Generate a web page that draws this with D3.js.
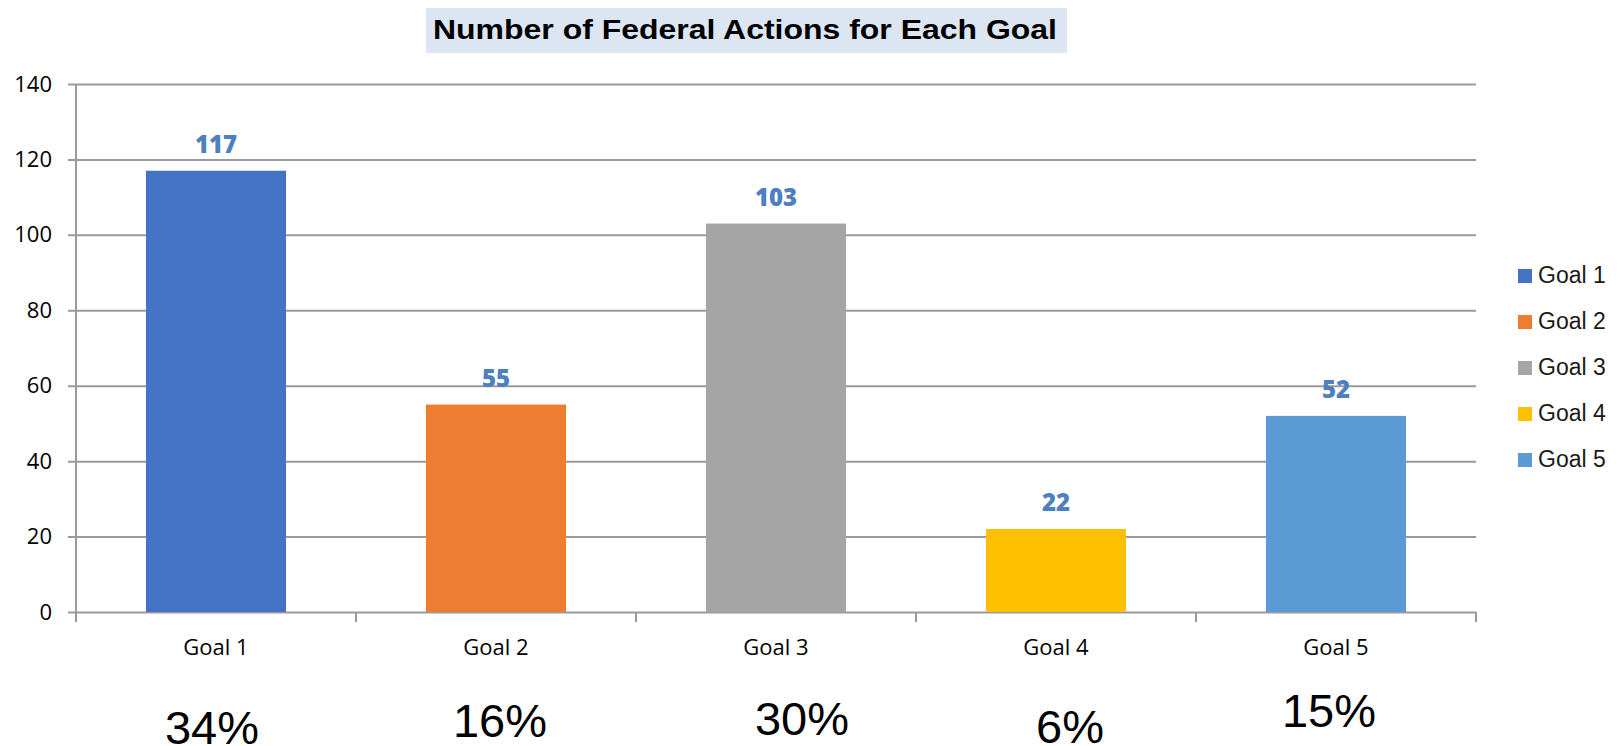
<!DOCTYPE html>
<html>
<head>
<meta charset="utf-8">
<script src="https://cdn.jsdelivr.net/npm/d3@7/dist/d3.min.js"></script>
<style>
  body { margin: 0; background: #fff; }
  svg { display: block; }
</style>
</head>
<body>
<svg id="chart" width="1621" height="746"></svg>
<script>
// data
var goals = ["Goal 1", "Goal 2", "Goal 3", "Goal 4", "Goal 5"];
var actions = [117, 55, 103, 22, 52];
var shares = ["34%", "16%", "30%", "6%", "15%"];
var colors = ["#4472C4", "#ED7D31", "#A5A5A5", "#FFC000", "#5B9BD5"];
var yTicks = [0, 20, 40, 60, 80, 100, 120, 140];

// percent labels sit a little off-centre in the original
var pctDx = [-4, 4, 26, 14, -7];
var pctY = [744, 737, 735, 743, 727];

var svg = d3.select("#chart");

var plotLeft = 76, plotRight = 1476, plotTop = 84, plotBottom = 612;

var x = d3.scaleBand().domain(goals).range([plotLeft, plotRight])
    .paddingInner(0.5).paddingOuter(0.25);
var y = d3.scaleLinear().domain([0, 140]).range([plotBottom, plotTop]);

// title with its pale box
svg.append("rect")
    .attr("x", 426).attr("y", 8)
    .attr("width", 641).attr("height", 45)
    .attr("fill", "#DCE6F2");
svg.append("text")
    .attr("x", 433).attr("y", 39)
    .attr("textLength", 624)
    .attr("lengthAdjust", "spacingAndGlyphs")
    .style("font-family", "'Liberation Sans', Arial, sans-serif")
    .style("font-weight", "bold")
    .style("font-size", "27px")
    .attr("fill", "#000")
    .text("Number of Federal Actions for Each Goal");

// y axis + gridlines
var yAxis = svg.append("g")
    .attr("transform", "translate(68,0)")
    .call(d3.axisLeft(y).tickValues(yTicks)
        .tickSizeInner(-(plotRight - 68)).tickSizeOuter(0).tickPadding(16));
yAxis.select(".domain").remove();
yAxis.selectAll("line").attr("stroke", "#9a9a9a").attr("stroke-width", 2);
yAxis.selectAll("text")
    .style("font-family", "'Open Sans', sans-serif")
    .style("font-size", "22px")
    .attr("fill", "#000");

svg.append("line")
    .attr("x1", plotLeft).attr("x2", plotLeft)
    .attr("y1", plotTop).attr("y2", plotBottom + 9)
    .attr("stroke", "#9a9a9a").attr("stroke-width", 2);

// category boundary ticks on the x axis
var gap = x.step() - x.bandwidth();
var bounds = goals.map(function(g) { return x(g) - gap / 2; });
bounds.push(x(goals[goals.length - 1]) + x.bandwidth() + gap / 2);

svg.selectAll(".xtick")
    .data(bounds)
    .enter().append("line")
    .attr("class", "xtick")
    .attr("x1", function(d) { return d; })
    .attr("x2", function(d) { return d; })
    .attr("y1", plotBottom).attr("y2", plotBottom + 10)
    .attr("stroke", "#9a9a9a").attr("stroke-width", 2);

var xAxis = svg.append("g")
    .attr("transform", "translate(0," + plotBottom + ")")
    .call(d3.axisBottom(x).tickSize(0).tickPadding(27));
xAxis.select(".domain").remove();
xAxis.selectAll("text")
    .style("font-family", "'Open Sans', sans-serif")
    .style("font-size", "22px")
    .attr("fill", "#000");

// bars
svg.selectAll(".bar")
    .data(actions)
    .enter().append("rect")
    .attr("class", "bar")
    .attr("x", function(d, i) { return x(goals[i]); })
    .attr("y", function(d) { return y(d); })
    .attr("width", x.bandwidth())
    .attr("height", function(d) { return y(0) - y(d); })
    .attr("fill", function(d, i) { return colors[i]; });

// value labels
svg.selectAll(".val")
    .data(actions)
    .enter().append("text")
    .attr("class", "val")
    .attr("x", function(d, i) { return x(goals[i]) + x.bandwidth() / 2; })
    .attr("y", function(d) { return y(d) - 18; })
    .attr("text-anchor", "middle")
    .style("font-family", "'Open Sans', sans-serif")
    .style("font-weight", "800")
    .style("font-size", "24px")
    .attr("fill", "#4E7FC0")
    .text(function(d) { return d; });

// share of total under each goal
svg.selectAll(".pct")
    .data(shares)
    .enter().append("text")
    .attr("class", "pct")
    .attr("x", function(d, i) { return x(goals[i]) + x.bandwidth() / 2 + pctDx[i]; })
    .attr("y", function(d, i) { return pctY[i]; })
    .attr("text-anchor", "middle")
    .style("font-family", "'Liberation Sans', Arial, sans-serif")
    .style("font-size", "47px")
    .attr("fill", "#000")
    .text(function(d) { return d; });

// legend
var legend = svg.selectAll(".leg")
    .data(goals)
    .enter().append("g")
    .attr("class", "leg")
    .attr("transform", function(d, i) { return "translate(1518," + (269 + i * 46) + ")"; });
legend.append("rect")
    .attr("width", 14).attr("height", 14)
    .attr("fill", function(d, i) { return colors[i]; });
legend.append("text")
    .attr("x", 20).attr("y", 14)
    .style("font-family", "'Liberation Sans', Arial, sans-serif")
    .style("font-size", "23px")
    .attr("fill", "#1a1a1a")
    .text(function(d) { return d; });
</script>
</body>
</html>
